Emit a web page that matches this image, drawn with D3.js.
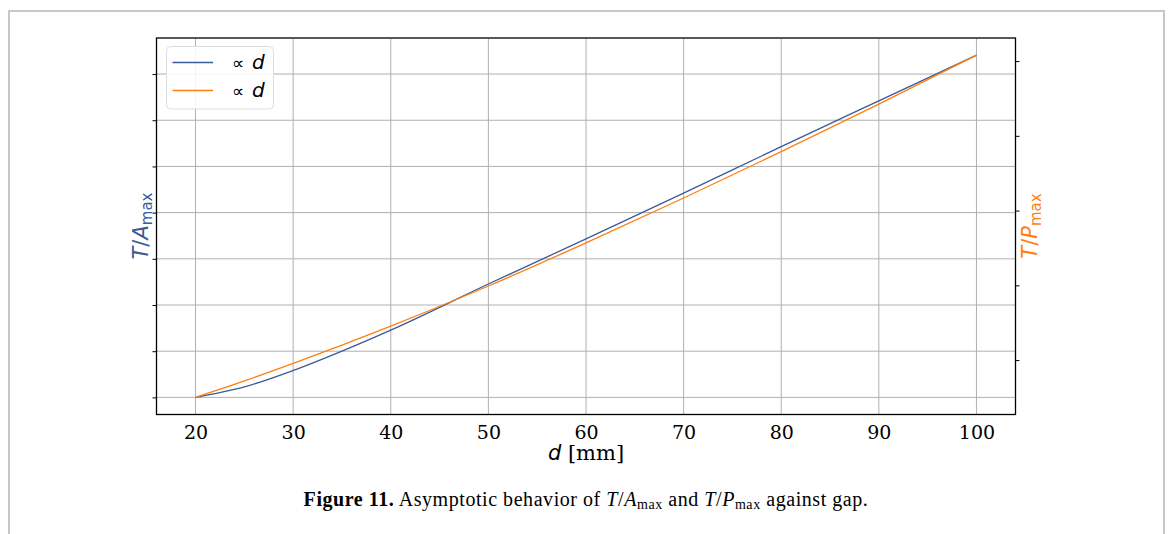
<!DOCTYPE html>
<html>
<head>
  <meta charset="UTF-8">
  <script src="https://d3js.org/d3.v7.js"></script>
  <style>
    body { margin: 0; background: #fff; }
  </style>
</head>
<body>
  <div id="chart"></div>
  <script>
    // data (y values in units of one tick step)
    const gap = [20, 25, 30, 35, 40, 50, 60, 70, 80, 90, 100];
    const tOverA = [0, 0.227, 0.583, 1.003, 1.457, 2.454, 3.431, 4.424, 5.427, 6.420, 7.410];
    const tOverP = [0.501, 0.721, 0.955, 1.199, 1.455, 1.991, 2.568, 3.168, 3.788, 4.425, 5.080];
    const xTicks = [20, 30, 40, 50, 60, 70, 80, 90, 100];
    const leftTicks = [0, 1, 2, 3, 4, 5, 6, 7];
    const rightTicks = [1, 2, 3, 4, 5];

    const blue = '#3b5a98';
    const orange = '#ff7f0e';

    const W = 1172, H = 534;
    const plot = { left: 156.5, right: 1015.5, top: 38, bottom: 414.5 };

    const svg = d3.select('#chart')
      .append('svg')
        .attr('width', W)
        .attr('height', H);

    // page frame (grey, open at the bottom)
    svg.append('path')
      .attr('d', `M9,${H} V11 H1164 V${H}`)
      .attr('fill', 'none')
      .attr('stroke', '#c8c8c8')
      .attr('stroke-width', 2);

    // scales, padded like matplotlib's 5% margins
    function padded(vals) {
      const [lo, hi] = d3.extent(vals);
      const m = (hi - lo) * 0.05;
      return [lo - m, hi + m];
    }

    const x = d3.scaleLinear()
        .domain(padded(gap))
        .range([plot.left, plot.right]);

    const yL = d3.scaleLinear()
        .domain(padded(tOverA))
        .range([plot.bottom, plot.top]);

    const yR = d3.scaleLinear()
        .domain(padded(tOverP))
        .range([plot.bottom, plot.top]);

    // grid
    const grid = svg.append('g')
        .attr('stroke', '#b0b0b0')
        .attr('stroke-width', 1);

    grid.selectAll('.vg')
      .data(xTicks)
      .join('line')
        .attr('x1', d => x(d)).attr('x2', d => x(d))
        .attr('y1', plot.top).attr('y2', plot.bottom);

    grid.selectAll('.hg')
      .data(leftTicks)
      .join('line')
        .attr('x1', plot.left).attr('x2', plot.right)
        .attr('y1', d => yL(d)).attr('y2', d => yL(d));

    // lines
    const series = [
      { vals: tOverA, y: yL, color: blue },
      { vals: tOverP, y: yR, color: orange }
    ];

    series.forEach(s => {
      const line = d3.line()
          .x((d, i) => x(gap[i]))
          .y(d => s.y(d))
          .curve(d3.curveMonotoneX);
      svg.append('path')
        .datum(s.vals)
        .attr('fill', 'none')
        .attr('stroke', s.color)
        .attr('stroke-width', 1.3)
        .attr('d', line);
    });

    // axes
    svg.append('g')
        .attr('transform', `translate(${plot.left},0)`)
        .call(d3.axisLeft(yL).tickValues(leftTicks).tickSize(4).tickFormat(''))
        .call(g => g.select('.domain').remove());

    svg.append('g')
        .attr('transform', `translate(${plot.right},0)`)
        .call(d3.axisRight(yR).tickValues(rightTicks).tickSize(4).tickFormat(''))
        .call(g => g.select('.domain').remove());

    const xAxis = svg.append('g')
        .attr('transform', `translate(0,${plot.bottom})`)
        .call(d3.axisBottom(x).tickValues(xTicks).tickSize(0).tickPadding(11))
        .call(g => g.select('.domain').remove());

    xAxis.selectAll('text')
        .attr('font-family', '"DejaVu Serif", serif')
        .attr('font-size', 19)
        .attr('fill', '#000');

    // frame
    svg.append('rect')
      .attr('x', plot.left).attr('y', plot.top)
      .attr('width', plot.right - plot.left)
      .attr('height', plot.bottom - plot.top)
      .attr('fill', 'none')
      .attr('stroke', '#000')
      .attr('stroke-width', 1.3);

    // axis labels
    const xl = svg.append('text')
        .attr('x', (plot.left + plot.right) / 2)
        .attr('y', 460)
        .attr('text-anchor', 'middle')
        .attr('font-size', 21);
    xl.append('tspan').attr('font-family', '"DejaVu Sans", sans-serif').attr('font-style', 'italic').text('d');
    xl.append('tspan').attr('font-family', '"DejaVu Serif", serif').text(' [mm]');

    function ratioLabel(cx, cy, letter, color) {
      const t = svg.append('text')
          .attr('transform', `translate(${cx},${cy}) rotate(-90)`)
          .attr('text-anchor', 'middle')
          .attr('font-family', '"DejaVu Sans", sans-serif')
          .attr('font-size', 21)
          .attr('fill', color);
      t.append('tspan').attr('font-style', 'italic').text('T');
      t.append('tspan').text('/');
      t.append('tspan').attr('font-style', 'italic').text(letter);
      t.append('tspan').attr('font-size', 15).attr('dy', 4).text('max');
    }
    ratioLabel(148, 226, 'A', blue);
    ratioLabel(1037, 226, 'P', orange);

    // legend
    const lg = svg.append('g');
    lg.append('rect')
      .attr('x', 166.5).attr('y', 46.5)
      .attr('width', 107).attr('height', 62.5)
      .attr('rx', 4)
      .attr('fill', '#fff').attr('fill-opacity', 0.85)
      .attr('stroke', '#dcdcdc');

    [blue, orange].forEach((c, i) => {
      const yy = 62.5 + i * 28;
      lg.append('line')
        .attr('x1', 172.5).attr('x2', 213)
        .attr('y1', yy).attr('y2', yy)
        .attr('stroke', c).attr('stroke-width', 1.6);
      const t = lg.append('text')
        .attr('x', 232).attr('y', yy + 6)
        .attr('font-family', '"DejaVu Sans", sans-serif')
        .attr('font-size', 17)
        .attr('fill', '#000');
      t.append('tspan').text('\u221D');
      t.append('tspan').attr('x', 252).attr('font-size', 20).attr('font-style', 'italic').text('d');
    });

    // caption
    const cap = svg.append('text')
        .attr('x', 586)
        .attr('y', 506)
        .attr('text-anchor', 'middle')
        .attr('font-family', '"Liberation Serif", serif')
        .attr('font-size', 20)
        .attr('letter-spacing', 0.55)
        .attr('fill', '#000');
    cap.append('tspan').attr('font-weight', 'bold').text('Figure 11.');
    cap.append('tspan').text(' Asymptotic behavior of ');
    cap.append('tspan').attr('font-style', 'italic').text('T');
    cap.append('tspan').text('/');
    cap.append('tspan').attr('font-style', 'italic').text('A');
    cap.append('tspan').attr('font-size', 14).attr('dy', 3).text('max');
    cap.append('tspan').attr('dy', -3).text(' and ');
    cap.append('tspan').attr('font-style', 'italic').text('T');
    cap.append('tspan').text('/');
    cap.append('tspan').attr('font-style', 'italic').text('P');
    cap.append('tspan').attr('font-size', 14).attr('dy', 3).text('max');
    cap.append('tspan').attr('dy', -3).text(' against gap.');
  </script>
</body>
</html>
